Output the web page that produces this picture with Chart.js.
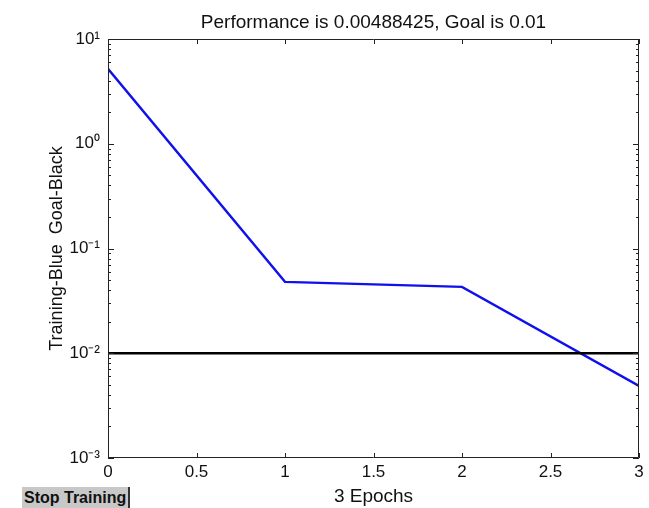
<!DOCTYPE html>
<html>
<head>
<meta charset="utf-8">
<script src="https://cdn.jsdelivr.net/npm/chart.js@4/dist/chart.umd.min.js"></script>
<style>
  html, body { margin: 0; padding: 0; background: #ffffff; }
  #wrap { position: relative; width: 649px; height: 508px; overflow: hidden; }
  canvas { display: block; }
  #stopBtn {
    position: absolute; left: 22px; top: 487px; width: 108px; height: 21px;
    background: #c8c8c8; border-right: 2px solid #333;
    font: bold 16px "Liberation Sans", Arial, sans-serif; color: #111;
    line-height: 22px; padding-left: 2px; box-sizing: border-box; white-space: nowrap;
  }
</style>
</head>
<body>
<div id="wrap">
  <canvas id="c" width="649" height="508"></canvas>
  <div id="stopBtn">Stop Training</div>
</div>
<script>
// ---- data ----
const epochs = [0, 1, 2, 3];
const performance = [5.19, 0.048, 0.043, 0.00488425];
const goalX = [0, 3];
const goalY = [0.01, 0.01];
const yTickValues = [0.001, 0.01, 0.1, 1, 10];
const yTickLabels = ['10\u207B\u00B3', '10\u207B\u00B2', '10\u207B\u00B9', '10\u2070', '10\u00B9'];
const xTickValues = [0, 0.5, 1, 1.5, 2, 2.5, 3];
const xTickLabels = ['0', '0.5', '1', '1.5', '2', '2.5', '3'];
const titleText = 'Performance is 0.00488425, Goal is 0.01';
const xTitle = '3 Epochs';
const yTitle = 'Training-Blue  Goal-Black';

const FONT = '"Liberation Sans", Arial, Helvetica, sans-serif';

// inward ticks on all four sides + box
const boxTicks = {
  id: 'boxTicks',
  afterDatasetsDraw(chart) {
    const {ctx, chartArea: a, scales: {x, y}} = chart;
    ctx.save();
    ctx.strokeStyle = '#222';
    ctx.lineWidth = 1;
    ctx.beginPath();
    ctx.rect(a.left + 0.5, a.top + 0.5, a.right - a.left - 1, a.bottom - a.top - 1);
    ctx.stroke();
    ctx.beginPath();
    xTickValues.forEach(v => {
      const px = Math.round(x.getPixelForValue(v)) + 0.5;
      ctx.moveTo(px, a.bottom); ctx.lineTo(px, a.bottom - 5);
      ctx.moveTo(px, a.top); ctx.lineTo(px, a.top + 5);
    });
    for (let e = -3; e <= 1; e++) {
      for (let m = 1; m <= 9; m++) {
        const v = m * Math.pow(10, e);
        if (v > 10.0001) break;
        const py = Math.round(y.getPixelForValue(v)) + 0.5;
        const len = (m === 1) ? 6 : 3;
        ctx.moveTo(a.left, py); ctx.lineTo(a.left + len, py);
        ctx.moveTo(a.right, py); ctx.lineTo(a.right - len, py);
      }
    }
    ctx.stroke();
    ctx.restore();
  }
};

new Chart(document.getElementById('c'), {
  type: 'line',
  data: {
    datasets: [
      {
        label: 'Goal',
        data: goalX.map((v, i) => ({x: v, y: goalY[i]})),
        borderColor: '#000000',
        borderWidth: 2.7,
        pointRadius: 0,
        tension: 0
      },
      {
        label: 'Training',
        data: epochs.map((v, i) => ({x: v, y: performance[i]})),
        borderColor: '#1010ee',
        borderWidth: 2.4,
        pointRadius: 0,
        tension: 0
      }
    ]
  },
  options: {
    responsive: false,
    animation: false,
    events: [],
    layout: { padding: { left: 0, right: 10, top: 0, bottom: 0 } },
    plugins: {
      legend: { display: false },
      tooltip: { enabled: false },
      title: {
        display: true,
        fullSize: false,
        text: titleText,
        color: '#111',
        font: { family: FONT, size: 19, weight: 'normal', lineHeight: 1.2 },
        padding: { top: 11, bottom: 5.2 }
      }
    },
    scales: {
      x: {
        type: 'linear',
        min: 0, max: 3,
        afterBuildTicks(s) { s.ticks = xTickValues.map(v => ({value: v})); },
        afterFit(s) { s.height = 50; },
        ticks: {
          autoSkip: false, maxRotation: 0,
          color: '#111', padding: 4,
          font: { family: FONT, size: 17 },
          callback: (v) => { const i = xTickValues.indexOf(v); return i >= 0 ? xTickLabels[i] : ''; }
        },
        grid: { display: false, drawTicks: false },
        border: { display: false },
        title: {
          display: true, text: xTitle, color: '#111',
          font: { family: FONT, size: 19, lineHeight: 1.2 },
          padding: { top: 0, bottom: 0 }
        }
      },
      y: {
        type: 'logarithmic',
        min: 0.001, max: 10,
        afterBuildTicks(s) { s.ticks = yTickValues.map(v => ({value: v})); },
        afterFit(s) { s.width = 108; },
        ticks: {
          autoSkip: false,
          color: '#111', padding: 8,
          font: { family: FONT, size: 17 },
          callback: (v) => {
            const i = yTickValues.findIndex(t => Math.abs(t - v) < t * 1e-6);
            return i >= 0 ? yTickLabels[i] : '';
          }
        },
        grid: { display: false, drawTicks: false },
        border: { display: false },
        title: {
          display: true, text: yTitle, color: '#111',
          font: { family: FONT, size: 18, lineHeight: 1.2 },
          padding: { top: 46, bottom: 0 }
        }
      }
    }
  },
  plugins: [boxTicks]
});
</script>
</body>
</html>
